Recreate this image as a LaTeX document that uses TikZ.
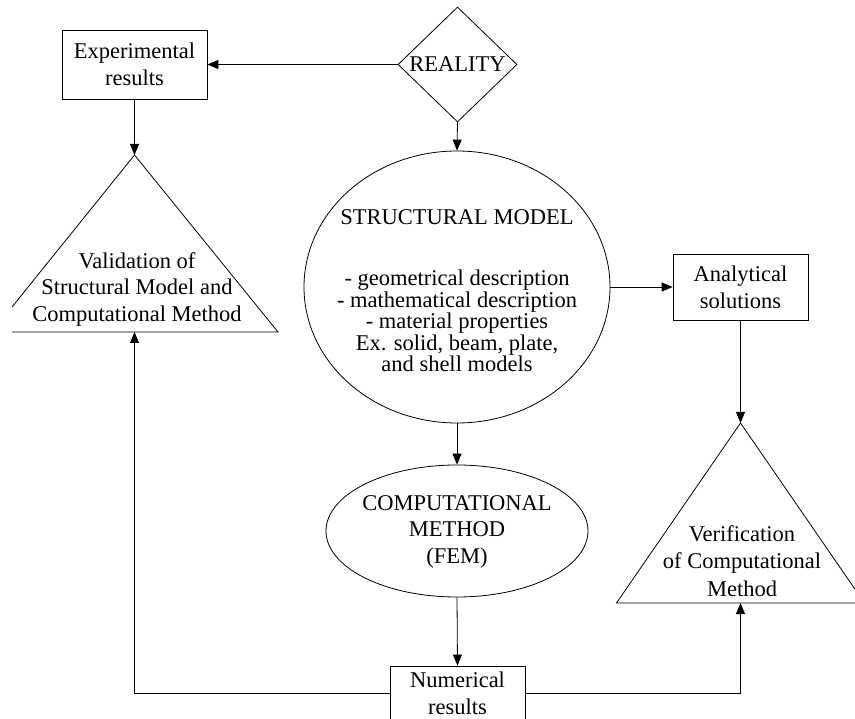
\documentclass[tikz,border=0pt]{standalone}
\usepackage{fontspec}
\setmainfont{Liberation Serif}
\usetikzlibrary{shapes.geometric,arrows.meta}
\begin{document}
\begin{tikzpicture}[x=1pt,y=-1pt,
  every node/.style={font=\fontsize{22.5}{27}\selectfont, align=center},
  box/.style={draw, line width=0.8pt, minimum width=145pt, minimum height=69pt, inner sep=0pt},
  conn/.style={line width=0.8pt},
  arr/.style={conn, -{Triangle[length=11pt,width=9pt]}},
  shapeline/.style={draw, line width=0.8pt, inner sep=0pt}
]
\clip (0,0) rectangle (855,719);
% nodes
\node[shapeline, diamond, minimum width=119pt, minimum height=115pt, aspect=1] (real) at (457.5,64.5) {REALITY};
\node[box] (exp) at (134.5,64.5) {Experimental\\results};
\node[box, minimum width=135pt, minimum height=66pt] (ana) at (740.5,287) {Analytical\\solutions};
\node[box, minimum width=135pt, minimum height=54pt] (num) at (457.5,693) {Numerical\\results};
\node[shapeline, ellipse, minimum width=306pt, minimum height=272pt] (sm) at (457,287) {};
\node[font=\fontsize{22.5}{21.5}\selectfont] (smtext) at (457,291) {STRUCTURAL MODEL\\[39.5pt]- geometrical description\\- mathematical description\\- material properties\\Ex. solid, beam, plate,\\and shell models};
\node[shapeline, ellipse, minimum width=262pt, minimum height=132pt] (cm) at (457,531) {};
\node[font=\fontsize{22.5}{26.5}\selectfont] (cmtext) at (457,531.5) {COMPUTATIONAL\\METHOD\\(FEM)};
% validation triangle
\coordinate (valTop) at (134.5,155);
\coordinate (valBase) at (134.5,332);
\draw[conn] (12,307) -- (valTop) -- (278,332) -- (12,332);
\node[font=\fontsize{22.5}{26.5}\selectfont] (valtext) at (137,289) {Validation of\\Structural Model and\\Computational Method};
% verification triangle
\coordinate (verTop) at (740.5,423);
\coordinate (verBase) at (740.5,603);
\draw[conn] (616.5,603) -- (verTop) -- (864.5,603) -- cycle;
\node[font=\fontsize{22.5}{27.5}\selectfont] (vertext) at (742,561) {Verification\\of Computational\\Method};
% connectors
\draw[arr] (real.west) -- (exp.east);
\draw[arr] (real.south) -- (sm.north);
\draw[arr] (exp.south) -- (valTop);
\draw[arr] (sm.east) -- (ana.west);
\draw[arr] (sm.south) -- (cm.north);
\draw[arr] (cm.south) -- (num.north);
\draw[arr] (ana.south) -- (verTop);
\draw[arr] (num.west) -| (valBase);
\draw[arr] (num.east) -| (verBase);
\end{tikzpicture}
\end{document}
